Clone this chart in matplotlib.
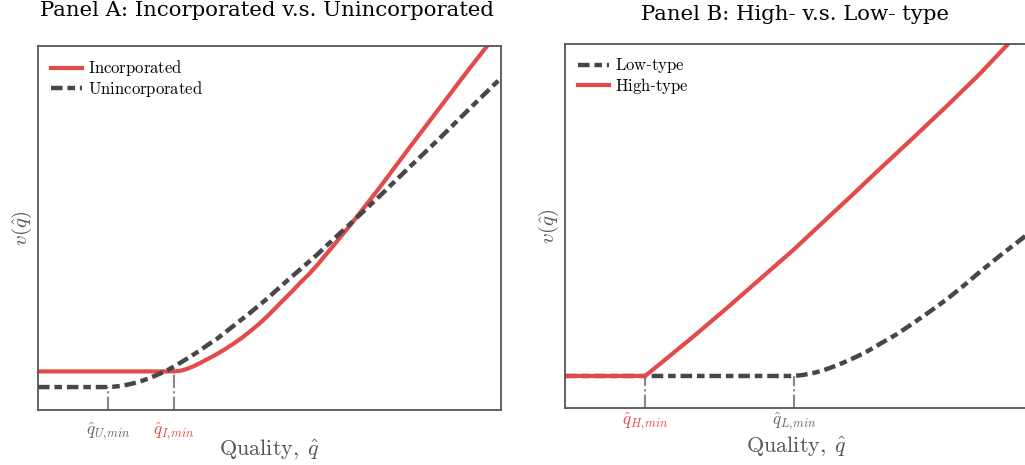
import matplotlib
matplotlib.use("Agg")
import matplotlib.pyplot as plt

plt.rcParams['mathtext.fontset'] = 'cm'
plt.rcParams['font.family'] = ['DejaVu Serif']

# ---- Panel A data ----
x_inc = [0, 2.94, 3.08, 3.22, 3.36, 3.50, 3.68, 3.87, 4.04, 4.21, 4.40, 4.58, 4.77, 4.95, 5.12, 5.29,
         5.48, 5.66, 5.85, 6.03, 6.20, 6.37, 6.55, 6.74, 7.39, 8.03, 8.68, 9.33, 9.70]
v_inc = [1.06, 1.06, 1.08, 1.13, 1.20, 1.29, 1.41, 1.54, 1.67, 1.81, 1.98, 2.16, 2.36, 2.57, 2.79, 3.01,
         3.25, 3.49, 3.73, 3.98, 4.24, 4.50, 4.78, 5.07, 6.13, 7.22, 8.31, 9.40, 10.0]
x_unc = [0, 1.51, 1.64, 1.77, 1.91, 2.05, 2.24, 2.42, 2.60, 2.79, 2.96, 3.13, 3.32, 3.50, 3.68, 3.87,
         4.04, 4.21, 4.40, 4.58, 4.77, 4.95, 5.29, 5.66, 6.03, 6.37, 6.74, 7.39, 8.03, 8.68, 9.33, 10.0]
v_unc = [0.63, 0.63, 0.64, 0.66, 0.69, 0.73, 0.80, 0.88, 0.98, 1.09, 1.21, 1.34, 1.49, 1.64, 1.80, 1.96,
         2.13, 2.30, 2.49, 2.67, 2.87, 3.06, 3.45, 3.86, 4.27, 4.68, 5.11, 5.89, 6.68, 7.47, 8.29, 9.12]

# ---- Panel B data ----
x_high = [0, 1.73, 2.05, 2.76, 3.50, 4.21, 4.93, 5.51, 6.16, 6.80, 7.56, 8.25, 8.96, 9.57]
v_high = [0.88, 0.88, 1.21, 1.95, 2.75, 3.54, 4.34, 5.03, 5.80, 6.57, 7.47, 8.30, 9.18, 10.0]
x_low = [0, 4.95, 5.15, 5.36, 5.54, 5.72, 5.91, 6.09, 6.28, 6.46, 6.63, 6.80, 7.17, 7.52, 7.88,
         8.25, 8.60, 8.96, 9.40, 10.0]
v_low = [0.88, 0.88, 0.91, 0.96, 1.02, 1.10, 1.19, 1.29, 1.40, 1.51, 1.63, 1.76, 2.03, 2.33, 2.65,
         2.99, 3.35, 3.74, 4.19, 4.78]

RED = '#e34a4a'
DARK = '#474747'
GUIDE = '#888888'
GRAY_TXT = '#555555'
DASH = (0, (2.6, 1.1, 1.7, 1.1))

fig = plt.figure(figsize=(10.25, 4.65), dpi=100)
W, H = 1025, 465
axA = fig.add_axes([38 / W, (H - 410) / H, 463 / W, 364 / H])
axB = fig.add_axes([565 / W, (H - 408) / H, 463 / W, 364 / H])

def style(ax):
    for s in ax.spines.values():
        s.set_color('#555555')
        s.set_linewidth(1.3)
    ax.set_xlim(0, 10)
    ax.set_ylim(0, 10)
    ax.set_yticks([])
    ax.tick_params(axis='x', length=0)

legend_kw = dict(loc='upper left', frameon=False, fontsize=12, handlelength=1.9,
                 borderaxespad=0.5, labelspacing=0.02, handletextpad=0.35, borderpad=0.25)

# Panel A
axA.plot(x_inc, v_inc, color=RED, lw=3, label=r'$\mathrm{Incorporated}$')
axA.plot(x_unc, v_unc, color=DARK, lw=3.2, ls=DASH, label=r'$\mathrm{Unincorporated}$')
qU, qI = x_unc[1], x_inc[1]
axA.plot([qU, qU], [0, v_unc[1]], color=GUIDE, lw=1.5, ls='-.', zorder=1)
axA.plot([qI, qI], [0, v_inc[1]], color=GUIDE, lw=1.5, ls='-.', zorder=1)
style(axA)
axA.set_xticks([qU, qI])
axA.set_xticklabels([r'$\hat{q}_{U,\!min}$', r'$\hat{q}_{I,\!min}$'], fontsize=12.5)
axA.tick_params(axis='x', pad=8)
labs = axA.get_xticklabels()
labs[0].set_color('#666666')
labs[1].set_color(RED)
axA.text(0.5, -0.077, r'$\mathrm{Quality,}\;\hat{q}$', transform=axA.transAxes,
         ha='center', va='top', fontsize=16, color=GRAY_TXT)
axA.text(-0.035, 0.5, r'$v(\hat{q})$', transform=axA.transAxes, rotation=90,
         ha='center', va='center', fontsize=15, color=GRAY_TXT)
axA.legend(**legend_kw)
fig.text(267 / W, 1 - 11 / H, 'Panel A: Incorporated v.s. Unincorporated',
         ha='center', va='center', fontsize=15.3)

# Panel B
axB.plot(x_low, v_low, color=DARK, lw=3.2, ls=DASH, label=r'$\mathrm{Low}$-$\mathrm{type}$')
axB.plot(x_high, v_high, color=RED, lw=3, label=r'$\mathrm{High}$-$\mathrm{type}$')
qH, qL = x_high[1], x_low[1]
axB.plot([qH, qH], [0, v_high[1]], color=GUIDE, lw=1.5, ls='-.', zorder=1)
axB.plot([qL, qL], [0, v_low[1]], color=GUIDE, lw=1.5, ls='-.', zorder=1)
style(axB)
axB.set_xticks([qH, qL])
axB.set_xticklabels([r'$\hat{q}_{H,\!min}$', r'$\hat{q}_{L,\!min}$'], fontsize=12.5)
axB.tick_params(axis='x', pad=2)
labs = axB.get_xticklabels()
labs[0].set_color(RED)
labs[1].set_color('#666666')
axB.text(0.5, -0.074, r'$\mathrm{Quality,}\;\hat{q}$', transform=axB.transAxes,
         ha='center', va='top', fontsize=16, color=GRAY_TXT)
axB.text(-0.035, 0.5, r'$v(\hat{q})$', transform=axB.transAxes, rotation=90,
         ha='center', va='center', fontsize=15, color=GRAY_TXT)
axB.legend(**legend_kw)
fig.text(795 / W, 1 - 14 / H, 'Panel B: High- v.s. Low- type',
         ha='center', va='center', fontsize=15.3)

fig.savefig('out.png', dpi=100)
